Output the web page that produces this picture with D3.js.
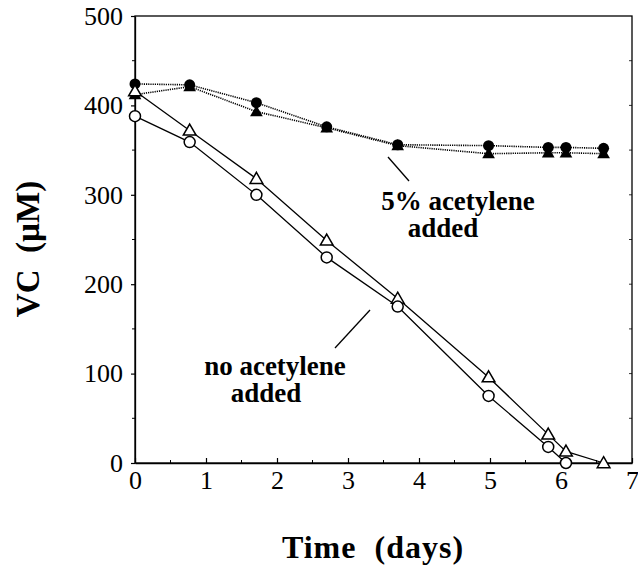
<!DOCTYPE html>
<html><head><meta charset="utf-8">
<script src="https://cdn.jsdelivr.net/npm/d3@7"></script>
<style>body{margin:0;background:#fff}</style>
</head><body><svg id="c" width="638" height="569"></svg>
<script>
// Data
const daysAcet = [0, 0.77, 1.71, 2.70, 3.70, 4.98, 5.82, 6.07, 6.60];
const acetCircle = [424, 423, 403, 376, 356, 355, 353, 353, 352];
const acetTriangle = [412, 421, 393, 375, 355, 346, 347, 347, 346];
const daysNoCircle = [0, 0.77, 1.71, 2.70, 3.70, 4.98, 5.82, 6.07];
const noCircle = [388, 359, 300, 230, 175, 75, 18, 0];
const daysNoTriangle = [0, 0.77, 1.71, 2.70, 3.70, 4.98, 5.82, 6.07, 6.60];
const noTriangle = [416, 372, 318, 249, 184, 96, 32, 13, 0];
const xTicks = [0,1,2,3,4,5,6,7];
const yTicks = [0,100,200,300,400,500];
const xLabel = "Time  (days)";
const yLabel = "VC  (\u00b5M)";

const svg = d3.select("#c");
const L=135, R=632, T=16, B=463;
const x = d3.scaleLinear().domain([0,7]).range([L,R]);
const y = d3.scaleLinear().domain([0,500]).range([B,T]);
const serif = "Liberation Serif";

svg.append("rect").attr("x",L).attr("y",T).attr("width",R-L).attr("height",B-T)
  .attr("fill","none").attr("stroke","#000").attr("stroke-width",1.3);

const xa = svg.append("g").attr("transform",`translate(0,${B})`)
  .call(d3.axisBottom(x).tickValues(xTicks).tickFormat(d3.format("d")).tickSizeInner(-5).tickSizeOuter(0).tickPadding(8));
const ya = svg.append("g").attr("transform",`translate(${L},0)`)
  .call(d3.axisLeft(y).tickValues(yTicks).tickFormat(d3.format("d")).tickSize(4).tickSizeOuter(0).tickPadding(8));
[xa,ya].forEach(a=>{
  a.style("font-family",serif);
  a.select(".domain").attr("stroke","#000").attr("stroke-width",1.3);
  a.selectAll("line").attr("stroke","#000").attr("stroke-width",1.2);
  a.selectAll("text").style("font-family",serif).style("font-size","26px").attr("fill","#000");
});
const xMinor = d3.range(0.5,7,1);
svg.append("g").selectAll("line").data(xMinor).join("line")
  .attr("x1",d=>x(d)).attr("x2",d=>x(d)).attr("y1",B).attr("y2",B-3)
  .attr("stroke","#000").attr("stroke-width",1);
const yMinor = d3.range(50,500,100);
svg.append("g").selectAll("line").data(yMinor).join("line")
  .attr("x1",L).attr("x2",L-3).attr("y1",d=>y(d)).attr("y2",d=>y(d))
  .attr("stroke","#000").attr("stroke-width",1);
svg.append("g").selectAll("line").data(d3.range(50,500,50)).join("line")
  .attr("x1",R).attr("x2",R-3).attr("y1",d=>y(d)).attr("y2",d=>y(d))
  .attr("stroke","#000").attr("stroke-width",0.8);

const line = d3.line().x(d=>x(d[0])).y(d=>y(d[1]));
const zip = (a,b)=>a.map((v,i)=>[v,b[i]]);
const sAC = zip(daysAcet, acetCircle), sAT = zip(daysAcet, acetTriangle);
const sNC = zip(daysNoCircle, noCircle), sNT = zip(daysNoTriangle, noTriangle);

[sAC,sAT].forEach(s=>svg.append("path").attr("d",line(s)).attr("fill","none")
  .attr("stroke","#000").attr("stroke-width",1.6).attr("stroke-dasharray","1.2,1"));
[sNC,sNT].forEach(s=>svg.append("path").attr("d",line(s)).attr("fill","none")
  .attr("stroke","#000").attr("stroke-width",1.3));

const tri = d3.symbol().type(d3.symbolTriangle).size(70);
svg.append("g").selectAll("path").data(sAT).join("path").attr("d",tri)
  .attr("transform",d=>`translate(${x(d[0])},${y(d[1])+1})`).attr("fill","#000");
svg.append("g").selectAll("circle").data(sAC).join("circle")
  .attr("cx",d=>x(d[0])).attr("cy",d=>y(d[1])).attr("r",5.5).attr("fill","#000");
svg.append("g").selectAll("path").data(sNT).join("path").attr("d",tri)
  .attr("transform",d=>`translate(${x(d[0])},${y(d[1])+1})`).attr("fill","#fff").attr("stroke","#000").attr("stroke-width",1.5);
svg.append("g").selectAll("circle").data(sNC).join("circle")
  .attr("cx",d=>x(d[0])).attr("cy",d=>y(d[1])).attr("r",5.5).attr("fill","#fff").attr("stroke","#000").attr("stroke-width",1.5);

const bold = sel => sel.style("font-family",serif).style("font-weight","bold");
const ann = svg.append("g").attr("text-anchor","middle");
bold(ann.append("text").attr("x",458).attr("y",210).style("font-size","27px").text("5% acetylene"));
bold(ann.append("text").attr("x",443).attr("y",237).style("font-size","27px").text("added"));
bold(ann.append("text").attr("x",275).attr("y",375).style("font-size","27px").text("no acetylene"));
bold(ann.append("text").attr("x",266).attr("y",402).style("font-size","27px").text("added"));
svg.append("line").attr("x1",388).attr("y1",157).attr("x2",409).attr("y2",181).attr("stroke","#000").attr("stroke-width",1.3);
svg.append("line").attr("x1",370).attr("y1",310).attr("x2",335).attr("y2",348).attr("stroke","#000").attr("stroke-width",1.3);

bold(svg.append("text").attr("x",373).attr("y",558).attr("text-anchor","middle")
  .style("font-size","32px").style("letter-spacing","1px").style("white-space","pre").text(xLabel));
bold(svg.append("text").attr("transform","translate(39,249) rotate(-90)").attr("text-anchor","middle")
  .style("font-size","33px").style("white-space","pre").text(yLabel));
</script></body></html>
